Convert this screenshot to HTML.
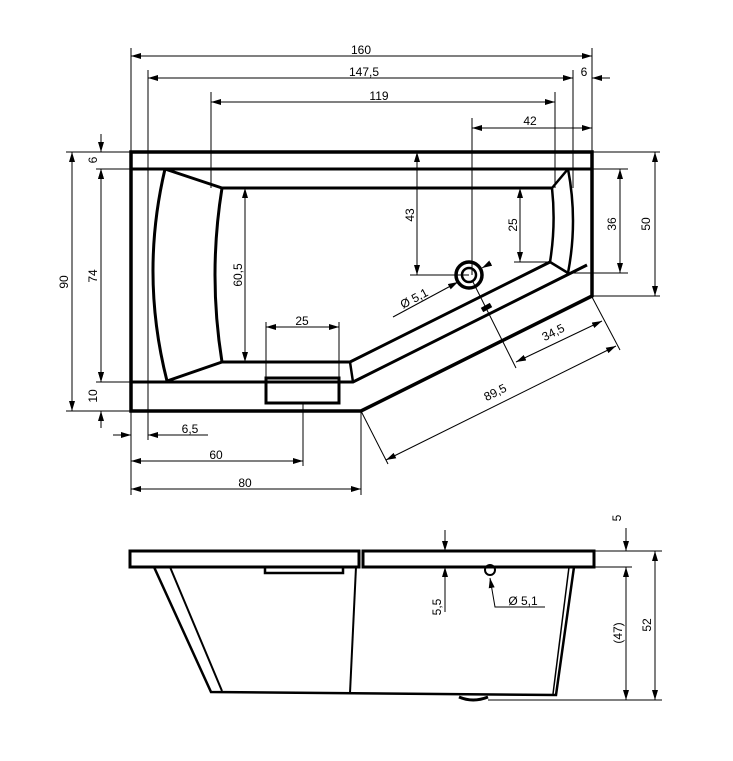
<!DOCTYPE html>
<html><head><meta charset="utf-8"><style>
html,body{margin:0;padding:0;background:#fff}
svg{display:block}
text{font-family:"Liberation Sans",sans-serif;font-size:12px;fill:#000}
</style></head><body>
<svg width="733" height="761" viewBox="0 0 733 761" xmlns="http://www.w3.org/2000/svg">
<defs>
<marker id="a" viewBox="0 0 10 6" refX="10" refY="3" markerWidth="10" markerHeight="6" markerUnits="userSpaceOnUse" orient="auto-start-reverse"><path d="M0,0 L10,3 L0,6 z" fill="#000"/></marker>
</defs>
<g stroke="#000" fill="none">
<!-- plan outline -->
<path d="M131,152 H592 V296 L361,411 H131 Z" stroke-width="3.5"/>
<path d="M131,169 H592" stroke-width="3"/>
<path d="M131,382 H353 L587,265" stroke-width="3"/>
<!-- basin -->
<path d="M222,188 H552" stroke-width="3"/>
<path d="M222,362 H350 L550,262" stroke-width="3"/>
<path d="M350,362 L353,382" stroke-width="2.5"/>
<path d="M165,169 L222,188 M167,381 L222,362" stroke-width="3"/>
<path d="M165,169 Q140,275 167,381" stroke-width="3"/>
<path d="M222,188 Q208,275 222,362" stroke-width="3"/>
<path d="M552,188 L568,169 M550,262 L568,273" stroke-width="2.5"/>
<path d="M568,169 Q578,221 568,273" stroke-width="2.5"/>
<path d="M552,188 Q556,225 550,262" stroke-width="2.5"/>
<rect x="266" y="378" width="73" height="25" stroke-width="3"/>
<circle cx="469" cy="275" r="13" stroke-width="3.5"/>
<circle cx="469" cy="275" r="7" stroke-width="2.5"/>
<path d="M482,310 L491,305" stroke-width="5"/>
</g>
<g stroke="#000" stroke-width="1" fill="none">
<!-- extension lines top -->
<path d="M131,48 V152 M592,48 V152 M148,70 V440 M573,70 V188 M211,92 V188 M555,92 V188 M472,118 V275"/>
<path d="M131,56 H592" marker-start="url(#a)" marker-end="url(#a)"/>
<path d="M148,78 H573" marker-start="url(#a)" marker-end="url(#a)"/>
<path d="M592,78 H610" marker-start="url(#a)"/>
<path d="M211,102 H555" marker-start="url(#a)" marker-end="url(#a)"/>
<path d="M472,128 H592" marker-start="url(#a)" marker-end="url(#a)"/>
<!-- left -->
<path d="M66,152 H131 M96,169 H131 M96,382 H131 M66,411 H131"/>
<path d="M72,152 V411" marker-start="url(#a)" marker-end="url(#a)"/>
<path d="M101,169 V382" marker-start="url(#a)" marker-end="url(#a)"/>
<path d="M101,134 V152" marker-end="url(#a)"/>
<path d="M101,187 V169" marker-end="url(#a)"/>
<path d="M101,364 V382" marker-end="url(#a)"/>
<path d="M101,428 V411" marker-end="url(#a)"/>
<!-- right -->
<path d="M592,169 H628 M572,273 H628 M592,152 H660 M592,296 H660"/>
<path d="M620,169 V273" marker-start="url(#a)" marker-end="url(#a)"/>
<path d="M655,152 V296" marker-start="url(#a)" marker-end="url(#a)"/>
<!-- inner dims -->
<path d="M417,152 V275" marker-start="url(#a)" marker-end="url(#a)"/>
<path d="M410,275 H469"/>
<path d="M520,188 V262" marker-start="url(#a)" marker-end="url(#a)"/>
<path d="M514,262 H550"/>
<path d="M245,188 V362" marker-start="url(#a)" marker-end="url(#a)"/>
<path d="M266,322 V378 M339,322 V378"/>
<path d="M266,327 H339" marker-start="url(#a)" marker-end="url(#a)"/>
<path d="M393,317 L458,282" marker-end="url(#a)"/>
<path d="M491,263 L482,268" marker-end="url(#a)"/>
<!-- diagonal dims -->
<path d="M472,280 L516,368 M361,411 L388,464 M592,297 L620,350"/>
<path d="M516,362 L602,321" marker-start="url(#a)" marker-end="url(#a)"/>
<path d="M386,460 L616,346" marker-start="url(#a)" marker-end="url(#a)"/>
<!-- bottom -->
<path d="M131,411 V495 M303,403 V466 M361,411 V495"/>
<path d="M113,435 H131" marker-end="url(#a)"/>
<path d="M166,435 H148" marker-end="url(#a)"/>
<path d="M148,435 H208"/>
<path d="M131,461 H303" marker-start="url(#a)" marker-end="url(#a)"/>
<path d="M131,489 H361" marker-start="url(#a)" marker-end="url(#a)"/>
</g>
<!-- side view -->
<g stroke="#000" fill="none">
<rect x="130" y="551" width="229" height="16" stroke-width="3"/>
<rect x="363" y="551" width="231" height="16" stroke-width="3"/>
<path d="M154,567 L211,692 L556,695 L574,567" stroke-width="2.5"/>
<path d="M170,567 L222,691" stroke-width="2"/>
<path d="M356,567 L350,693" stroke-width="2"/>
<path d="M569,567 L553,694" stroke-width="1.5"/>
<path d="M265,567 V573 H343 V567" stroke-width="2.5"/>
<path d="M459,697 Q473,703 488,697" stroke-width="3"/>
<circle cx="490" cy="570" r="5" stroke-width="2"/>
</g>
<g stroke="#000" stroke-width="1" fill="none">
<path d="M490,578 L495,607 H545" marker-start="url(#a)"/>
<path d="M445,530 V551" marker-end="url(#a)"/>
<path d="M445,612 V567" marker-end="url(#a)"/>
<path d="M594,551 H662 M594,567 H632 M488,700 H662"/>
<path d="M626,528 V551" marker-end="url(#a)"/>
<path d="M626,567 V700" marker-start="url(#a)" marker-end="url(#a)"/>
<path d="M655,551 V700" marker-start="url(#a)" marker-end="url(#a)"/>
</g>
<!-- labels -->
<g text-anchor="middle">
<text x="361" y="54">160</text>
<text x="364" y="76">147,5</text>
<text x="584" y="76">6</text>
<text x="379" y="100">119</text>
<text x="530" y="125">42</text>
<text x="302" y="325">25</text>
<text x="190" y="433">6,5</text>
<text x="216" y="459">60</text>
<text x="245" y="487">80</text>
<text transform="translate(68,282) rotate(-90)">90</text>
<text transform="translate(97,276) rotate(-90)">74</text>
<text transform="translate(97,160) rotate(-90)">6</text>
<text transform="translate(97,396) rotate(-90)">10</text>
<text transform="translate(616,224) rotate(-90)">36</text>
<text transform="translate(650,224) rotate(-90)">50</text>
<text transform="translate(414,215) rotate(-90)">43</text>
<text transform="translate(517,225) rotate(-90)">25</text>
<text transform="translate(242,275) rotate(-90)">60,5</text>
<text transform="translate(416,302) rotate(-28)">Ø 5,1</text>
<text transform="translate(555,336) rotate(-26.5)">34,5</text>
<text transform="translate(497,396) rotate(-26.5)">89,5</text>
<text x="523" y="605">Ø 5,1</text>
<text transform="translate(441,607) rotate(-90)">5,5</text>
<text transform="translate(621,518) rotate(-90)">5</text>
<text transform="translate(622,633) rotate(-90)">(47)</text>
<text transform="translate(651,625) rotate(-90)">52</text>
</g>
</svg>
</body></html>
